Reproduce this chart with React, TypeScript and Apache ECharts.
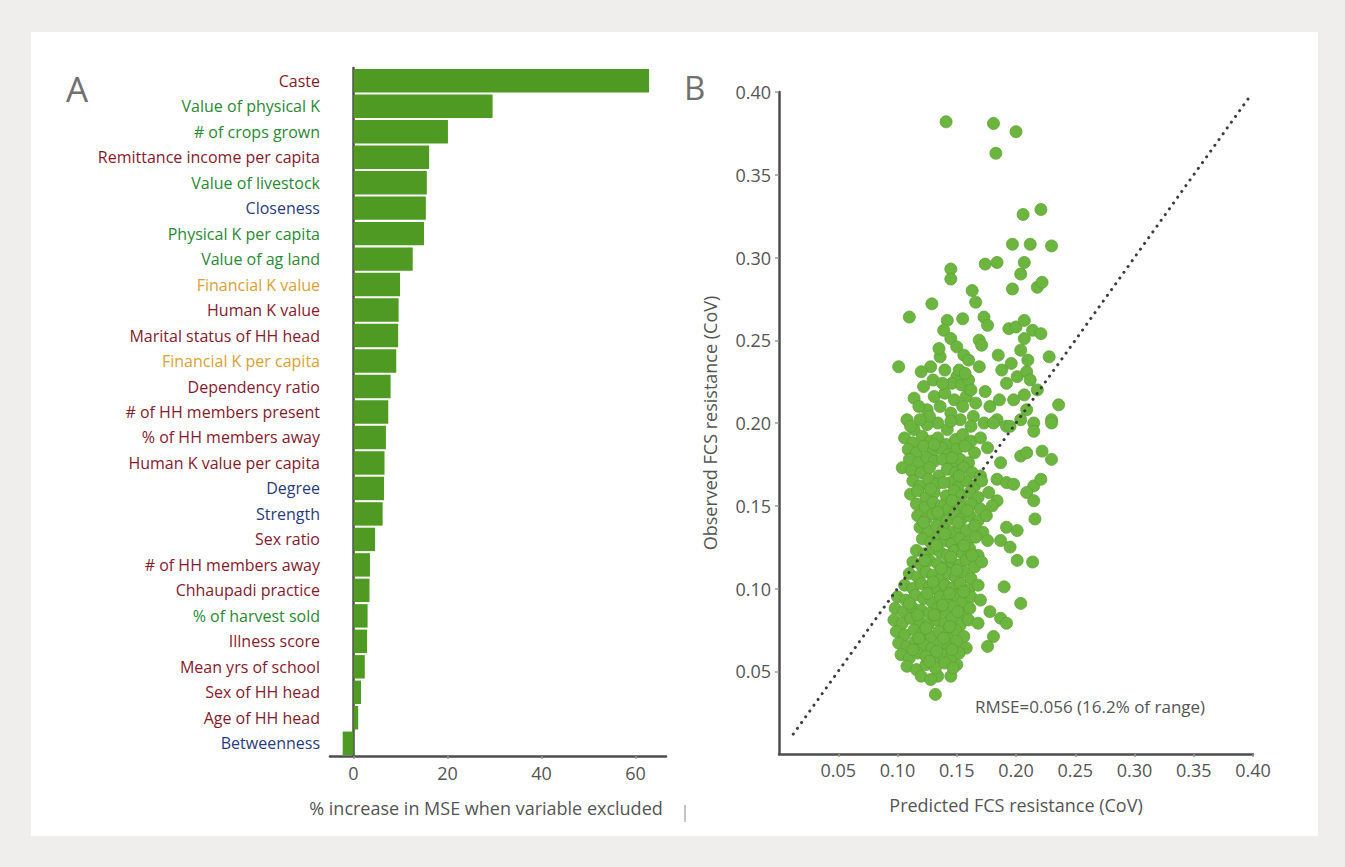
import React, { useEffect, useRef } from "react";
import * as echarts from "echarts";

// Panel A: variable importance from the random forest
const variables = [
  "Caste",
  "Value of physical K",
  "# of crops grown",
  "Remittance income per capita",
  "Value of livestock",
  "Closeness",
  "Physical K per capita",
  "Value of ag land",
  "Financial K value",
  "Human K value",
  "Marital status of HH head",
  "Financial K per capita",
  "Dependency ratio",
  "# of HH members present",
  "% of HH members away",
  "Human K value per capita",
  "Degree",
  "Strength",
  "Sex ratio",
  "# of HH members away",
  "Chhaupadi practice",
  "% of harvest sold",
  "Illness score",
  "Mean yrs of school",
  "Sex of HH head",
  "Age of HH head",
  "Betweenness",
];

const mseIncrease = [
  62.9, 29.6, 20.1, 16.1, 15.6, 15.4, 15.0, 12.6, 9.9, 9.6, 9.5, 9.1, 7.9, 7.4,
  6.9, 6.6, 6.5, 6.2, 4.6, 3.5, 3.4, 3.0, 2.9, 2.4, 1.6, 1.0, -2.3,
];

// capital group of each variable: social, physical, network, financial
const variableGroup = [
  "social", "physical", "physical", "social", "physical", "network", "physical",
  "physical", "financial", "social", "social", "financial", "social", "social",
  "social", "social", "network", "network", "social", "social", "social",
  "physical", "social", "social", "social", "social", "network",
];

const groupColors: Record<string, string> = {
  social: "#861a2c",
  physical: "#2a8934",
  network: "#2a3b7c",
  financial: "#d9a233",
};

const mseTicks = [0, 20, 40, 60];

// Panel B: predicted vs observed FCS resistance (CoV)
const fcsPoints: [number, number][] = [
  [0.141, 0.382], [0.181, 0.381], [0.200, 0.376], [0.183, 0.363],
  [0.206, 0.326], [0.221, 0.329],
  [0.197, 0.308], [0.212, 0.308], [0.230, 0.307],
  [0.174, 0.296], [0.184, 0.297], [0.207, 0.297],
  [0.145, 0.293], [0.145, 0.287], [0.204, 0.290],
  [0.163, 0.280], [0.197, 0.281], [0.218, 0.282], [0.222, 0.285],
  [0.166, 0.273], [0.129, 0.272],
  [0.110, 0.264], [0.142, 0.262], [0.155, 0.263], [0.173, 0.264], [0.176, 0.259],
  [0.139, 0.256], [0.145, 0.251], [0.150, 0.246], [0.169, 0.250], [0.171, 0.247],
  [0.194, 0.257], [0.200, 0.258], [0.207, 0.262], [0.214, 0.256], [0.221, 0.254],
  [0.207, 0.251], [0.204, 0.244],
  [0.185, 0.241], [0.156, 0.241], [0.136, 0.240], [0.128, 0.234], [0.120, 0.231],
  [0.101, 0.234], [0.228, 0.240],
  [0.150, 0.228], [0.146, 0.224], [0.154, 0.223], [0.160, 0.226], [0.152, 0.232],
  [0.157, 0.230], [0.169, 0.234],
  [0.114, 0.215], [0.131, 0.216], [0.174, 0.219],
  [0.192, 0.224], [0.201, 0.228], [0.209, 0.231], [0.212, 0.226],
  [0.198, 0.214], [0.207, 0.217], [0.236, 0.211], [0.230, 0.202],
  [0.125, 0.208], [0.136, 0.210], [0.145, 0.206], [0.153, 0.202], [0.164, 0.204],
  [0.173, 0.200], [0.108, 0.202], [0.114, 0.196], [0.134, 0.200],
  [0.184, 0.202], [0.192, 0.198], [0.204, 0.202], [0.215, 0.200], [0.209, 0.208],
  [0.140, 0.218], [0.148, 0.214], [0.158, 0.216], [0.166, 0.212], [0.122, 0.222],
  [0.118, 0.210], [0.130, 0.226], [0.162, 0.220], [0.178, 0.210], [0.186, 0.214],
  [0.140, 0.232], [0.135, 0.245], [0.160, 0.238], [0.188, 0.232], [0.196, 0.236],
  [0.210, 0.238], [0.218, 0.220],
  [0.111, 0.198], [0.125, 0.199], [0.142, 0.196], [0.162, 0.198], [0.181, 0.200],
  [0.195, 0.198], [0.215, 0.195], [0.230, 0.200],
  [0.222, 0.183], [0.230, 0.178], [0.187, 0.176], [0.204, 0.180], [0.209, 0.182],
  [0.184, 0.166], [0.192, 0.164], [0.198, 0.163], [0.215, 0.162], [0.221, 0.166],
  [0.209, 0.158], [0.215, 0.153], [0.184, 0.153],
  [0.216, 0.142], [0.192, 0.137], [0.201, 0.135], [0.187, 0.129], [0.195, 0.125],
  [0.201, 0.117], [0.214, 0.116],
  [0.190, 0.101], [0.204, 0.091], [0.178, 0.086], [0.187, 0.082], [0.192, 0.079],
  [0.181, 0.071], [0.176, 0.065],
  [0.150, 0.054], [0.145, 0.047], [0.134, 0.047], [0.132, 0.036],
  [0.106, 0.191], [0.113, 0.188], [0.121, 0.192], [0.128, 0.189], [0.134, 0.191],
  [0.141, 0.187], [0.149, 0.190], [0.155, 0.193], [0.162, 0.189], [0.170, 0.191],
  [0.109, 0.184], [0.116, 0.182], [0.122, 0.186], [0.130, 0.183], [0.137, 0.185],
  [0.143, 0.181], [0.150, 0.184], [0.157, 0.186], [0.165, 0.182], [0.176, 0.185],
  [0.110, 0.178], [0.118, 0.176], [0.125, 0.179], [0.131, 0.177], [0.138, 0.178],
  [0.146, 0.175], [0.153, 0.178], [0.160, 0.176],
  [0.104, 0.173], [0.112, 0.171], [0.120, 0.170], [0.127, 0.173], [0.135, 0.168],
  [0.142, 0.172], [0.149, 0.170], [0.156, 0.173], [0.163, 0.170], [0.170, 0.168],
  [0.113, 0.165], [0.119, 0.162], [0.126, 0.166], [0.133, 0.163], [0.145, 0.164],
  [0.151, 0.161], [0.158, 0.165], [0.165, 0.162], [0.171, 0.165],
  [0.111, 0.157], [0.117, 0.159], [0.124, 0.155], [0.131, 0.158], [0.141, 0.156],
  [0.148, 0.159], [0.154, 0.156], [0.161, 0.158], [0.168, 0.155], [0.177, 0.158],
  [0.116, 0.151], [0.123, 0.149], [0.130, 0.152], [0.137, 0.150], [0.143, 0.148],
  [0.149, 0.152], [0.156, 0.149], [0.162, 0.151], [0.170, 0.148], [0.180, 0.150],
  [0.117, 0.144], [0.124, 0.142], [0.130, 0.145], [0.136, 0.143], [0.142, 0.141],
  [0.148, 0.145], [0.154, 0.142], [0.161, 0.144], [0.168, 0.141], [0.175, 0.144],
  [0.119, 0.137], [0.126, 0.135], [0.133, 0.138], [0.139, 0.136], [0.145, 0.134],
  [0.152, 0.137], [0.158, 0.135], [0.165, 0.138], [0.172, 0.134],
  [0.121, 0.130], [0.128, 0.128], [0.134, 0.131], [0.140, 0.129], [0.146, 0.127],
  [0.153, 0.130], [0.159, 0.128], [0.166, 0.131], [0.176, 0.129],
  [0.116, 0.123], [0.123, 0.121], [0.130, 0.124], [0.136, 0.122], [0.142, 0.120],
  [0.148, 0.123], [0.155, 0.121], [0.161, 0.124], [0.168, 0.120],
  [0.113, 0.116], [0.120, 0.114], [0.127, 0.117], [0.134, 0.115], [0.140, 0.113],
  [0.146, 0.116], [0.152, 0.114], [0.158, 0.117], [0.165, 0.113], [0.171, 0.116],
  [0.110, 0.109], [0.117, 0.107], [0.124, 0.110], [0.130, 0.108], [0.137, 0.106],
  [0.143, 0.109], [0.149, 0.107], [0.156, 0.110], [0.162, 0.106],
  [0.106, 0.102], [0.113, 0.100], [0.120, 0.103], [0.127, 0.101], [0.134, 0.099],
  [0.140, 0.102], [0.146, 0.100], [0.153, 0.103], [0.160, 0.099], [0.168, 0.102],
  [0.100, 0.095], [0.107, 0.093], [0.115, 0.096], [0.122, 0.094], [0.129, 0.092],
  [0.136, 0.095], [0.142, 0.093], [0.149, 0.096], [0.155, 0.092], [0.162, 0.095],
  [0.170, 0.093],
  [0.098, 0.088], [0.105, 0.086], [0.112, 0.089], [0.120, 0.087], [0.127, 0.085],
  [0.134, 0.088], [0.141, 0.086], [0.147, 0.089], [0.154, 0.085], [0.161, 0.088],
  [0.097, 0.081], [0.104, 0.079], [0.111, 0.082], [0.119, 0.080], [0.126, 0.078],
  [0.133, 0.081], [0.140, 0.079], [0.146, 0.082], [0.153, 0.078], [0.160, 0.081],
  [0.168, 0.079],
  [0.099, 0.074], [0.106, 0.072], [0.114, 0.075], [0.121, 0.073], [0.128, 0.071],
  [0.135, 0.074], [0.142, 0.072], [0.149, 0.075], [0.156, 0.071],
  [0.101, 0.067], [0.108, 0.065], [0.115, 0.068], [0.122, 0.066], [0.129, 0.064],
  [0.136, 0.067], [0.143, 0.065], [0.150, 0.068], [0.158, 0.064],
  [0.103, 0.060], [0.110, 0.058], [0.117, 0.061], [0.124, 0.059], [0.131, 0.057],
  [0.138, 0.060], [0.145, 0.058], [0.152, 0.061],
  [0.108, 0.053], [0.116, 0.051], [0.124, 0.054], [0.132, 0.052], [0.140, 0.055],
  [0.147, 0.052], [0.120, 0.047], [0.128, 0.045],
  // extra points packed into the dense core
  [0.131, 0.187], [0.146, 0.179], [0.139, 0.164], [0.152, 0.168], [0.128, 0.160],
  [0.146, 0.153], [0.134, 0.146], [0.151, 0.140], [0.140, 0.133], [0.156, 0.126],
  [0.133, 0.126], [0.145, 0.119], [0.150, 0.111], [0.137, 0.112], [0.130, 0.104],
  [0.144, 0.097], [0.125, 0.097], [0.138, 0.090], [0.151, 0.086], [0.131, 0.084],
  [0.117, 0.084], [0.144, 0.077], [0.124, 0.076], [0.139, 0.070], [0.118, 0.070],
  [0.133, 0.062], [0.146, 0.063], [0.127, 0.056], [0.113, 0.063], [0.110, 0.091],
  [0.122, 0.140], [0.159, 0.147], [0.163, 0.120], [0.156, 0.098], [0.123, 0.117],
  [0.127, 0.204], [0.145, 0.201], [0.155, 0.210], [0.138, 0.224], [0.119, 0.202],
];

// 1:1 reference line
const identityLine: [number, number][] = [
  [0.012, 0.012],
  [0.398, 0.398],
];

const covTicks = [0.05, 0.1, 0.15, 0.2, 0.25, 0.3, 0.35, 0.4];

const FONT = "'Open Sans', 'DejaVu Sans', sans-serif";
const AXIS_GREY = "#4d4d4d";
const TEXT_GREY = "#555555";

export default function App() {
  const ref = useRef<HTMLDivElement>(null);

  useEffect(() => {
    document.body.style.margin = "0";
    if (!ref.current) return;
    const chart = echarts.init(ref.current, undefined, { renderer: "svg" });

    const option: echarts.EChartsOption = {
      animation: false,
      backgroundColor: "#efeeec",
      textStyle: { fontFamily: FONT },
      graphic: [
        {
          type: "rect",
          z: -10,
          shape: { x: 31, y: 32, width: 1287, height: 804 },
          style: { fill: "#ffffff" },
        },
        {
          type: "text",
          style: {
            text: "A",
            x: 66,
            y: 88,
            fontSize: 35,
            fontFamily: FONT,
            fill: "#707070",
            textVerticalAlign: "middle",
          },
        },
        {
          type: "text",
          style: {
            text: "B",
            x: 684,
            y: 87,
            fontSize: 33,
            fontFamily: FONT,
            fill: "#707070",
            textVerticalAlign: "middle",
          },
        },
        {
          type: "text",
          style: {
            text: "% increase in MSE when variable excluded",
            x: 486,
            y: 808,
            fontSize: 18,
            fontFamily: FONT,
            fill: TEXT_GREY,
            textAlign: "center",
            textVerticalAlign: "middle",
          },
        },
        {
          type: "text",
          style: {
            text: "RMSE=0.056 (16.2% of range)",
            x: 975,
            y: 706,
            fontSize: 17,
            fontFamily: FONT,
            fill: TEXT_GREY,
            textVerticalAlign: "middle",
          },
        },
        {
          type: "line",
          shape: { x1: 685, y1: 805, x2: 685, y2: 822 },
          style: { stroke: "#8a8a8a", lineWidth: 1 },
        },
      ],
      grid: [
        { left: 330, top: 68, width: 336, height: 688 },
        { left: 779, top: 92, width: 474, height: 662 },
      ],
      xAxis: [
        {
          type: "value",
          gridIndex: 0,
          min: -5,
          max: 66.5,
          splitLine: { show: false },
          axisLine: { show: true, lineStyle: { color: AXIS_GREY, width: 2.5 } },
          axisTick: {
            show: true,
            customValues: mseTicks,
            length: 3,
            lineStyle: { color: "#9a9a9a", width: 1.5 },
          },
          axisLabel: {
            customValues: mseTicks,
            fontSize: 18,
            color: TEXT_GREY,
            margin: 8,
          },
        },
        {
          type: "value",
          gridIndex: 1,
          min: 0,
          max: 0.4,
          interval: 0.05,
          splitLine: { show: false },
          axisLine: { show: true, lineStyle: { color: AXIS_GREY, width: 2.5 } },
          axisTick: {
            show: true,
            customValues: covTicks,
            length: 3,
            lineStyle: { color: "#9a9a9a", width: 1.5 },
          },
          axisLabel: {
            customValues: covTicks,
            fontSize: 18,
            color: TEXT_GREY,
            margin: 7,
            formatter: (v: number) => v.toFixed(2),
          },
          name: "Predicted FCS resistance (CoV)",
          nameLocation: "middle",
          nameGap: 42,
          nameTextStyle: { fontSize: 18, color: TEXT_GREY, fontFamily: FONT },
        },
      ],
      yAxis: [
        {
          type: "category",
          gridIndex: 0,
          data: variables,
          inverse: true,
          axisLine: { show: true, lineStyle: { color: AXIS_GREY, width: 2.5 } },
          axisTick: { show: false },
          axisLabel: {
            fontSize: 16,
            fontWeight: 500,
            margin: 10,
            interval: 0,
            color: ((_: string, i: number) =>
              groupColors[variableGroup[i]]) as any,
          },
        },
        {
          type: "value",
          gridIndex: 1,
          min: 0,
          max: 0.4,
          interval: 0.05,
          splitLine: { show: false },
          axisLine: { show: true, lineStyle: { color: AXIS_GREY, width: 2.5 } },
          axisTick: {
            show: true,
            customValues: covTicks,
            length: 4,
            lineStyle: { color: "#9a9a9a", width: 1.5 },
          },
          axisLabel: {
            customValues: covTicks,
            fontSize: 18,
            color: TEXT_GREY,
            margin: 8,
            formatter: (v: number) => v.toFixed(2),
          },
          name: "Observed FCS resistance (CoV)",
          nameLocation: "middle",
          nameGap: 60,
          nameTextStyle: { fontSize: 18, color: TEXT_GREY, fontFamily: FONT },
        },
      ],
      series: [
        {
          type: "bar",
          xAxisIndex: 0,
          yAxisIndex: 0,
          data: mseIncrease,
          barCategoryGap: "8%",
          itemStyle: { color: "#4f9a22" },
        },
        {
          type: "scatter",
          xAxisIndex: 1,
          yAxisIndex: 1,
          data: fcsPoints,
          symbolSize: 12,
          itemStyle: {
            color: "#6cb53f",
            borderColor: "#5ea335",
            borderWidth: 0.8,
            opacity: 1,
          },
        },
        {
          type: "line",
          xAxisIndex: 1,
          yAxisIndex: 1,
          data: identityLine,
          symbol: "none",
          z: 5,
          lineStyle: {
            color: "#3d3d3d",
            width: 3,
            type: [0.1, 7],
            cap: "round",
          },
        },
      ],
    };

    chart.setOption(option);
    return () => chart.dispose();
  }, []);

  return <div ref={ref} style={{ width: 1345, height: 867 }} />;
}
